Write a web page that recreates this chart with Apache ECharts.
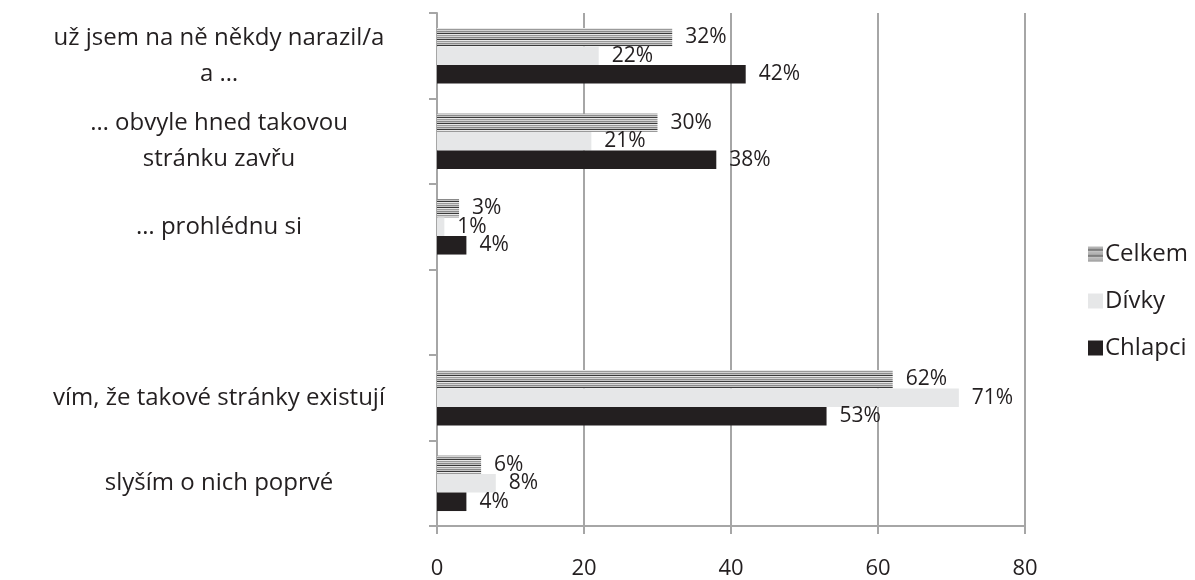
<!DOCTYPE html>
<html>
<head>
<meta charset="utf-8">
<script src="https://cdn.jsdelivr.net/npm/echarts@6/dist/echarts.min.js"></script>
<style>
  html, body { margin: 0; padding: 0; background: #fff; }
  #chart { width: 1195px; height: 580px; }
</style>
</head>
<body>
<div id="chart"></div>
<script>
// kategorie odpovědí (shora dolů), prázdná řádka je v originále taky
const categories = [
  'už jsem na ně někdy narazil/a\na …',
  '… obvyle hned takovou\nstránku zavřu',
  '… prohlédnu si',
  '',
  'vím, že takové stránky existují',
  'slyším o nich poprvé'
]
const celkem = [32, 30, 3, null, 62, 6]
const divky = [22, 21, 1, null, 71, 8]
const chlapci = [42, 38, 4, null, 53, 4]
const xTicks = [0, 20, 40, 60, 80]

const FONT = '"Open Sans", "DejaVu Sans", sans-serif'
const TEXT = '#231f20'

// pruhovaná výplň pro Celkem
function stripePattern() {
  const rows = ['#d4d4d4', '#8a8a8a', '#c4c4c4', '#3a3a3a', '#e8e8e8', '#9a9a9a']
  const c = document.createElement('canvas')
  c.width = 4
  c.height = rows.length
  const ctx = c.getContext('2d')
  rows.forEach((col, i) => {
    ctx.fillStyle = col
    ctx.fillRect(0, i, 4, 1)
  })
  return c
}

const myChart = echarts.init(document.getElementById('chart'))

const valueLabel = {
  show: true,
  position: 'right',
  distance: 13,
  formatter: '{c}%',
  color: TEXT,
  fontSize: 21,
  fontFamily: FONT
}

const option = {
  animation: false,
  textStyle: { fontFamily: FONT },
  grid: { left: 437, top: 13, right: 170, bottom: 52 },
  legend: {
    orient: 'vertical',
    left: 1083,
    top: 237,
    itemWidth: 15,
    itemHeight: 15,
    itemGap: 23,
    icon: 'rect',
    data: ['Celkem', 'Dívky', 'Chlapci'],
    textStyle: { color: TEXT, fontSize: 24, lineHeight: 24, fontFamily: FONT, padding: [0, 0, 0, -3] }
  },
  xAxis: {
    type: 'value',
    min: xTicks[0],
    max: xTicks[xTicks.length - 1],
    interval: 20,
    axisLine: { show: true, lineStyle: { color: '#a6a6a6', width: 2 } },
    axisTick: { show: true, length: 8, lineStyle: { color: '#a6a6a6', width: 2 } },
    axisLabel: { color: TEXT, fontSize: 22, fontFamily: FONT, margin: 32 },
    splitLine: { show: true, lineStyle: { color: '#a6a6a6', width: 2 } }
  },
  yAxis: {
    type: 'category',
    inverse: true,
    data: categories,
    axisLine: { show: true, lineStyle: { color: '#a6a6a6', width: 2 } },
    axisTick: { show: true, length: 8, lineStyle: { color: '#a6a6a6', width: 2 } },
    axisLabel: {
      color: TEXT,
      fontSize: 24,
      fontFamily: FONT,
      align: 'center',
      margin: 218,
      lineHeight: 36
    }
  },
  series: [
    {
      name: 'Celkem',
      type: 'bar',
      data: celkem,
      barGap: '0%',
      barCategoryGap: '35%',
      itemStyle: { color: { image: stripePattern(), repeat: 'repeat' } },
      label: valueLabel
    },
    {
      name: 'Dívky',
      type: 'bar',
      data: divky,
      itemStyle: { color: '#e6e7e8' },
      label: valueLabel
    },
    {
      name: 'Chlapci',
      type: 'bar',
      data: chlapci,
      itemStyle: { color: '#231f20' },
      label: valueLabel
    }
  ]
}
myChart.setOption(option)
</script>
</body>
</html>
